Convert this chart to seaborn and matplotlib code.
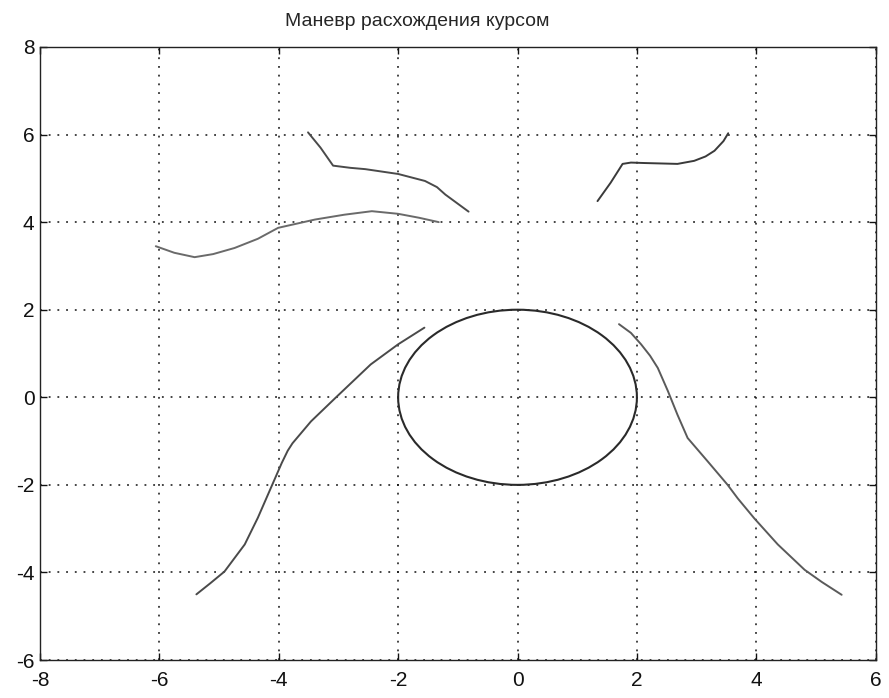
import matplotlib
matplotlib.use("Agg")
import matplotlib.pyplot as plt
from matplotlib.patches import Circle
import seaborn as sns
import pandas as pd

# ---- data ----
title = "Маневр расхождения курсом"
x_ticks = [-8, -6, -4, -2, 0, 2, 4, 6]
y_ticks = [-6, -4, -2, 0, 2, 4, 6, 8]

circle_center = (0.0, 0.0)
circle_radius = 2.0

upper_mid_x = [-3.51, -3.30, -3.09, -2.80, -2.55, -2.00, -1.55, -1.35, -1.21, -1.00, -0.82]
upper_mid_y = [6.05, 5.70, 5.29, 5.24, 5.21, 5.10, 4.94, 4.80, 4.63, 4.42, 4.24]

upper_left_x = [-6.06, -5.75, -5.41, -5.10, -4.74, -4.35, -4.01, -3.39, -2.90, -2.44, -2.00, -1.65, -1.32]
upper_left_y = [3.45, 3.30, 3.20, 3.27, 3.41, 3.62, 3.87, 4.06, 4.17, 4.25, 4.19, 4.10, 4.00]

upper_right_x = [1.34, 1.56, 1.70, 1.76, 1.90, 2.12, 2.68, 2.96, 3.15, 3.30, 3.45, 3.53]
upper_right_y = [4.48, 4.90, 5.20, 5.33, 5.36, 5.35, 5.33, 5.40, 5.50, 5.63, 5.85, 6.03]

lower_left_x = [-5.38, -5.15, -4.91, -4.57, -4.35, -4.11, -3.95, -3.85, -3.77, -3.46, -3.04, -2.46, -2.00, -1.56]
lower_left_y = [-4.50, -4.25, -3.98, -3.36, -2.75, -2.00, -1.50, -1.22, -1.05, -0.55, 0.00, 0.75, 1.21, 1.59]

lower_right_x = [1.70, 1.90, 2.07, 2.22, 2.35, 2.52, 2.68, 2.85, 3.19, 3.52, 3.69, 3.97, 4.36, 4.81, 5.10, 5.43]
lower_right_y = [1.67, 1.47, 1.21, 0.95, 0.67, 0.14, -0.40, -0.93, -1.47, -2.00, -2.31, -2.77, -3.36, -3.94, -4.22, -4.51]

curves = {
    "upper_mid": (upper_mid_x, upper_mid_y),
    "upper_left": (upper_left_x, upper_left_y),
    "upper_right": (upper_right_x, upper_right_y),
    "lower_left": (lower_left_x, lower_left_y),
    "lower_right": (lower_right_x, lower_right_y),
}

# ---- styling ----
sns.set_style("white")
plt.rcParams["font.family"] = ["Liberation Sans", "DejaVu Sans"]
plt.rcParams["axes.unicode_minus"] = False

fig = plt.figure(figsize=(8.89, 6.98), dpi=100)
ax = fig.add_axes([0.045, 0.0544, 0.940, 0.8783])

curve_colors = {
    "upper_mid": "#4a4a4a",
    "upper_left": "#6a6a6a",
    "upper_right": "#3a3a3a",
    "lower_left": "#4a4a4a",
    "lower_right": "#5a5a5a",
}

for name, (xs, ys) in curves.items():
    df = pd.DataFrame({"x": xs, "y": ys})
    sns.lineplot(data=df, x="x", y="y", sort=False, ax=ax,
                 color=curve_colors[name], linewidth=1.4, estimator=None)

ax.add_patch(Circle(circle_center, circle_radius, fill=False,
                    edgecolor="#2a2a2a", linewidth=1.5))

ax.set_xlim(x_ticks[0], x_ticks[-1])
ax.set_ylim(y_ticks[0], y_ticks[-1])
ax.set_xticks(x_ticks)
ax.set_yticks(y_ticks)
ax.set_xlabel("")
ax.set_ylabel("")
ax.set_title(title, fontsize=14, pad=15, x=0.452)

ax.grid(True, color="#111111", linestyle=(0, (1.2, 4.5)), linewidth=1.1)
for s in ax.spines.values():
    s.set_visible(True)
    s.set_color("#222222")
    s.set_linewidth(1.0)

ax.tick_params(direction="in", length=5, width=1, top=True, right=True,
               labelsize=15, colors="#111111", bottom=True, left=True)
ax.tick_params(axis="x", pad=8)
ax.tick_params(axis="y", pad=4)

fig.savefig("out.png", dpi=100, facecolor="white")
